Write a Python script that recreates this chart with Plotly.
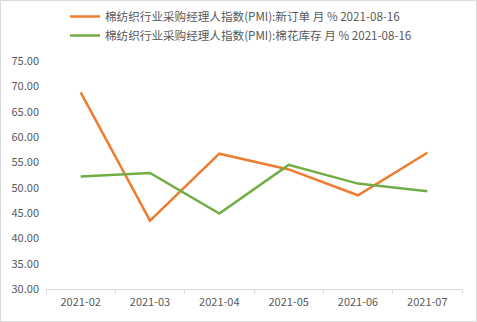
import plotly.graph_objects as go

months = ["2021-02", "2021-03", "2021-04", "2021-05", "2021-06", "2021-07"]
new_orders = [68.8, 43.5, 56.7, 53.6, 48.5, 56.9]
cotton_stock = [52.2, 52.9, 44.9, 54.5, 50.8, 49.3]
name_orders = "棉纺织行业采购经理人指数(PMI):新订单 月 % 2021-08-16"
name_stock = "棉纺织行业采购经理人指数(PMI):棉花库存 月 % 2021-08-16"

W, H = 477, 322
L, R, T, B = 46, 15, 61, 33
pw, ph = W - L - R, H - T - B

fig = go.Figure()
fig.add_trace(go.Scatter(x=months, y=new_orders, mode="lines", name=name_orders,
                         line=dict(color="#ED7D31", width=2.5)))
fig.add_trace(go.Scatter(x=months, y=cotton_stock, mode="lines", name=name_stock,
                         line=dict(color="#70AD47", width=2.5)))

font = "Noto Sans CJK SC, Microsoft YaHei, sans-serif"
fig.update_layout(
    width=W, height=H,
    margin=dict(l=L, r=R, t=T, b=B, pad=0, autoexpand=False),
    paper_bgcolor="white", plot_bgcolor="white",
    font=dict(family=font, size=11, color="#595959"),
    showlegend=True,
    legend=dict(xref="container", yref="container", x=65 / W, y=1 - 2 / H,
                xanchor="left", yanchor="top",
                font=dict(size=11.6, color="#595959"), tracegroupgap=0,
                bgcolor="rgba(0,0,0,0)"),
    xaxis=dict(type="category", range=[-0.5, 5.5], showgrid=False, showline=True,
               linecolor="#D9D9D9", ticks="outside", tickson="boundaries", ticklen=4,
               tickcolor="#D9D9D9", ticklabelstandoff=3,
               tickfont=dict(size=11, color="#595959"), zeroline=False),
    yaxis=dict(range=[30, 75], dtick=5, tick0=30, tickformat=".2f", showgrid=False,
               showline=False, zeroline=False, ticks="", ticklabelstandoff=6,
               tickfont=dict(size=11, color="#595959")),
    shapes=[dict(type="rect", xref="paper", yref="paper",
                 x0=(0.5 - L) / pw, x1=(W - 0.5 - L) / pw,
                 y0=-(B - 0.5) / ph, y1=1 + (T - 0.5) / ph,
                 line=dict(color="#D9D9D9", width=1), layer="below")],
)

fig.write_html("out.html")
